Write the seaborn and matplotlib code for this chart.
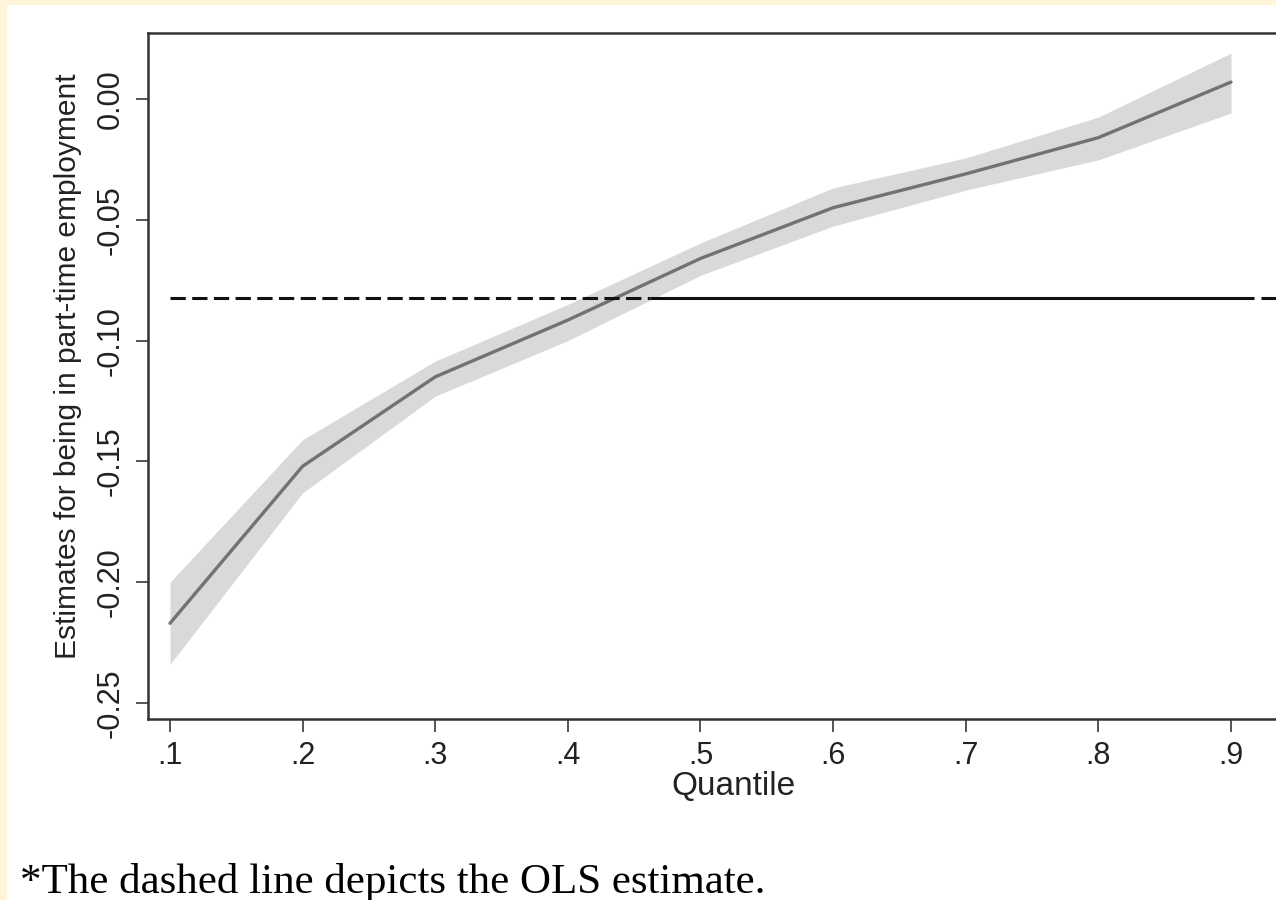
import numpy as np
import pandas as pd
import matplotlib
matplotlib.use("Agg")
import matplotlib.pyplot as plt
import seaborn as sns

# quantile regression estimates
quantiles = [0.1, 0.2, 0.3, 0.4, 0.5, 0.6, 0.7, 0.8, 0.9]
estimate = [-0.217, -0.152, -0.115, -0.0915, -0.066, -0.045, -0.031, -0.016, 0.007]
ci_low = [-0.234, -0.163, -0.123, -0.100, -0.073, -0.0526, -0.0377, -0.0252, -0.0058]
ci_high = [-0.200, -0.141, -0.1085, -0.085, -0.0596, -0.0368, -0.0244, -0.0075, 0.019]
ols_estimate = -0.0824

xtick_vals = quantiles
xtick_labels = [".1", ".2", ".3", ".4", ".5", ".6", ".7", ".8", ".9"]
ytick_vals = [-0.25, -0.20, -0.15, -0.10, -0.05, 0.00]
ytick_labels = ["-0.25", "-0.20", "-0.15", "-0.10", "-0.05", "0.00"]

sns.set_style("ticks")
plt.rcParams['font.family'] = ['Liberation Sans', 'DejaVu Sans']

df = pd.DataFrame({'Quantile': quantiles, 'estimate': estimate,
                   'lo': ci_low, 'hi': ci_high})

W, H = 1276, 900
fig = plt.figure(figsize=(W / 100, H / 100), dpi=100)
fig.patch.set_facecolor('#FFF5D8')
# white page area, behind the axes
fig.patches.append(plt.Rectangle((7 / W, 0), 1, 1 - 5 / H, transform=fig.transFigure,
                                 facecolor='white', edgecolor='none', zorder=-10))

left, right, top, bottom = 148, 1318, 33, 719
ax = fig.add_axes([left / W, 1 - bottom / H, (right - left) / W, (bottom - top) / H])
ax.set_facecolor('white')

ax.fill_between(df['Quantile'], df['lo'], df['hi'], color='#d9d9d9', lw=0, zorder=1)
sns.lineplot(data=df, x='Quantile', y='estimate', ax=ax, color='#727272',
             linewidth=2.4, zorder=2)

# OLS estimate line: short dashes, then long near-solid pieces
ax.hlines(ols_estimate, 0.1, 0.462, colors='#111111', linewidth=2.2,
          linestyles=(0, (5, 2.1)), zorder=3)
ax.hlines(ols_estimate, 0.462, 0.917, colors='#111111', linewidth=2.2, zorder=3)
ax.hlines(ols_estimate, 0.923, 1.0, colors='#111111', linewidth=2.2, zorder=3)

xpx = 1326.0
ax.set_xlim(0.1 - (170 - left) / xpx, 0.9 + (right - 1231) / xpx)
ypx = 2416.0
ax.set_ylim(-(bottom - 99) / ypx, (99 - top) / ypx)

ax.set_xticks(xtick_vals)
ax.set_xticklabels(xtick_labels)
ax.set_yticks(ytick_vals)
ax.set_yticklabels(ytick_labels, rotation=90, va='center')
ax.tick_params(axis='both', length=9, width=1.4, color='#555555',
               labelsize=22, labelcolor='#222222')
ax.tick_params(axis='x', pad=7)
ax.tick_params(axis='y', pad=7)

for side in ['left', 'top', 'bottom']:
    ax.spines[side].set_color('#333333')
    ax.spines[side].set_linewidth(1.8)
ax.spines['right'].set_visible(False)

ax.set_xlabel('Quantile', fontsize=24, color='#222222', labelpad=0)
ax.set_ylabel('Estimates for being in part-time employment', fontsize=21.5,
              color='#222222')
ax.yaxis.set_label_coords(-(148 - 82) / (right - left), 0.515)

fig.text(20 / W, 1 - 893 / H, '*The dashed line depicts the OLS estimate.',
         family=['Liberation Serif', 'DejaVu Serif'], fontsize=31, color='black',
         va='baseline', ha='left')

fig.savefig('out.png', dpi=100, facecolor=fig.get_facecolor())
